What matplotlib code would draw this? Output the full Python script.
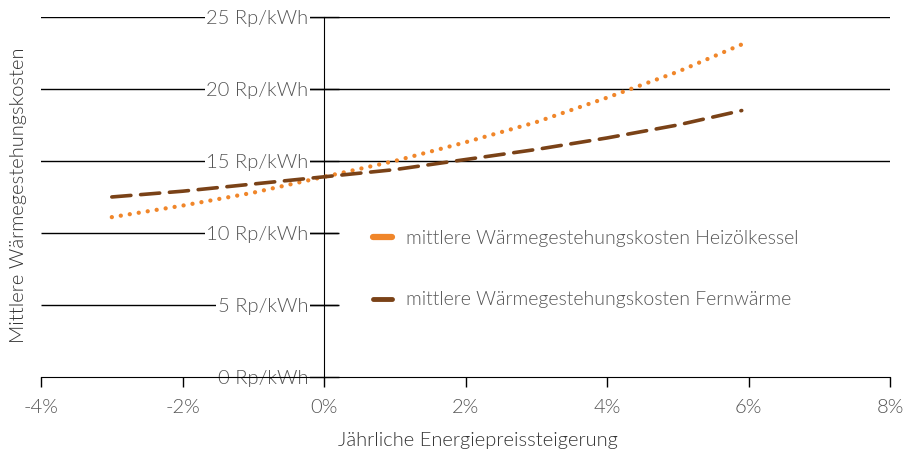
import matplotlib
matplotlib.use('Agg')
from matplotlib import pyplot as plt
from matplotlib.lines import Line2D

plt.rcParams['font.family'] = ['Lato', 'DejaVu Sans']
plt.rcParams['font.weight'] = 300

# annual energy price increase in %
steigerung = [-3, -2, -1, 0, 1, 2, 3, 4, 5, 6]
# average heat production cost, Rp/kWh
heizoel = [11.1, 11.9, 12.8, 13.9, 15.0, 16.3, 17.7, 19.4, 21.2, 23.3]
fernwaerme_x = [-3, -2, -1, 0, 1, 2, 3, 4, 5, 5.9]
fernwaerme = [12.5, 12.9, 13.4, 13.9, 14.4, 15.1, 15.8, 16.6, 17.5, 18.5]

x_ticks = [-4, -2, 0, 2, 4, 6, 8]
y_ticks = [0, 5, 10, 15, 20, 25]

orange = '#f0862a'
braun = '#7a4217'
grau = '#555555'

fig = plt.figure(figsize=(9.04, 4.57), dpi=100)
ax = fig.add_axes([0.0454, 0.175, 0.9395, 0.788])

ax.plot(steigerung, heizoel, color=orange, lw=3.1, linestyle=(0, (0.01, 2.1)),
        dash_capstyle='round', zorder=3)
ax.plot(fernwaerme_x, fernwaerme, color=braun, lw=2.6, linestyle=(0, (5.3, 2.7)),
        dash_capstyle='round', zorder=3)

ax.set_xlim(-4, 8)
ax.set_ylim(0, 25)

# horizontal grid; the lower two stop where the legend sits
for y in [15, 20, 25]:
    ax.axhline(y, color='black', lw=1, zorder=1)
for y in [5, 10]:
    ax.hlines(y, -4, 0.2, color='black', lw=1, zorder=1)

for side in ['top', 'right']:
    ax.spines[side].set_visible(False)
ax.spines['left'].set_position(('data', 0))
ax.spines['left'].set_zorder(2)

ax.set_xticks(x_ticks)
ax.set_xticklabels([f'{v}%' for v in x_ticks])
ax.set_yticks(y_ticks)
ax.set_yticklabels([f'{v} Rp/kWh' for v in y_ticks])
ax.tick_params(axis='x', direction='out', length=7, width=1, pad=9,
               labelsize=14.5, labelcolor=grau)
ax.tick_params(axis='y', direction='inout', length=21, width=1, pad=1,
               labelsize=14.5, labelcolor=grau)
for lbl in ax.get_yticklabels():
    lbl.set_bbox(dict(facecolor='white', edgecolor='none', pad=1))
    lbl.set_zorder(4)

ax.set_xlabel('Jährliche Energiepreissteigerung', fontsize=14.5, color='#333333',
              fontweight=300)
ax.xaxis.set_label_coords(0.515, -0.152)
fig.text(0.021, 0.573, 'Mittlere Wärmegestehungskosten', rotation=90, fontsize=14.5,
         color='#333333', ha='center', va='center', fontweight=300)

handles = [Line2D([], [], color=orange, lw=4.5, solid_capstyle='round'),
           Line2D([], [], color=braun, lw=3.5, solid_capstyle='round')]
ax.legend(handles, ['mittlere Wärmegestehungskosten Heizölkessel',
                    'mittlere Wärmegestehungskosten Fernwärme'],
          loc='upper left', bbox_to_anchor=(0.37, 0.458), frameon=False,
          fontsize=14, labelcolor=grau, handlelength=1.0, handletextpad=0.7,
          labelspacing=2.3)

fig.savefig('out.png', dpi=100)
